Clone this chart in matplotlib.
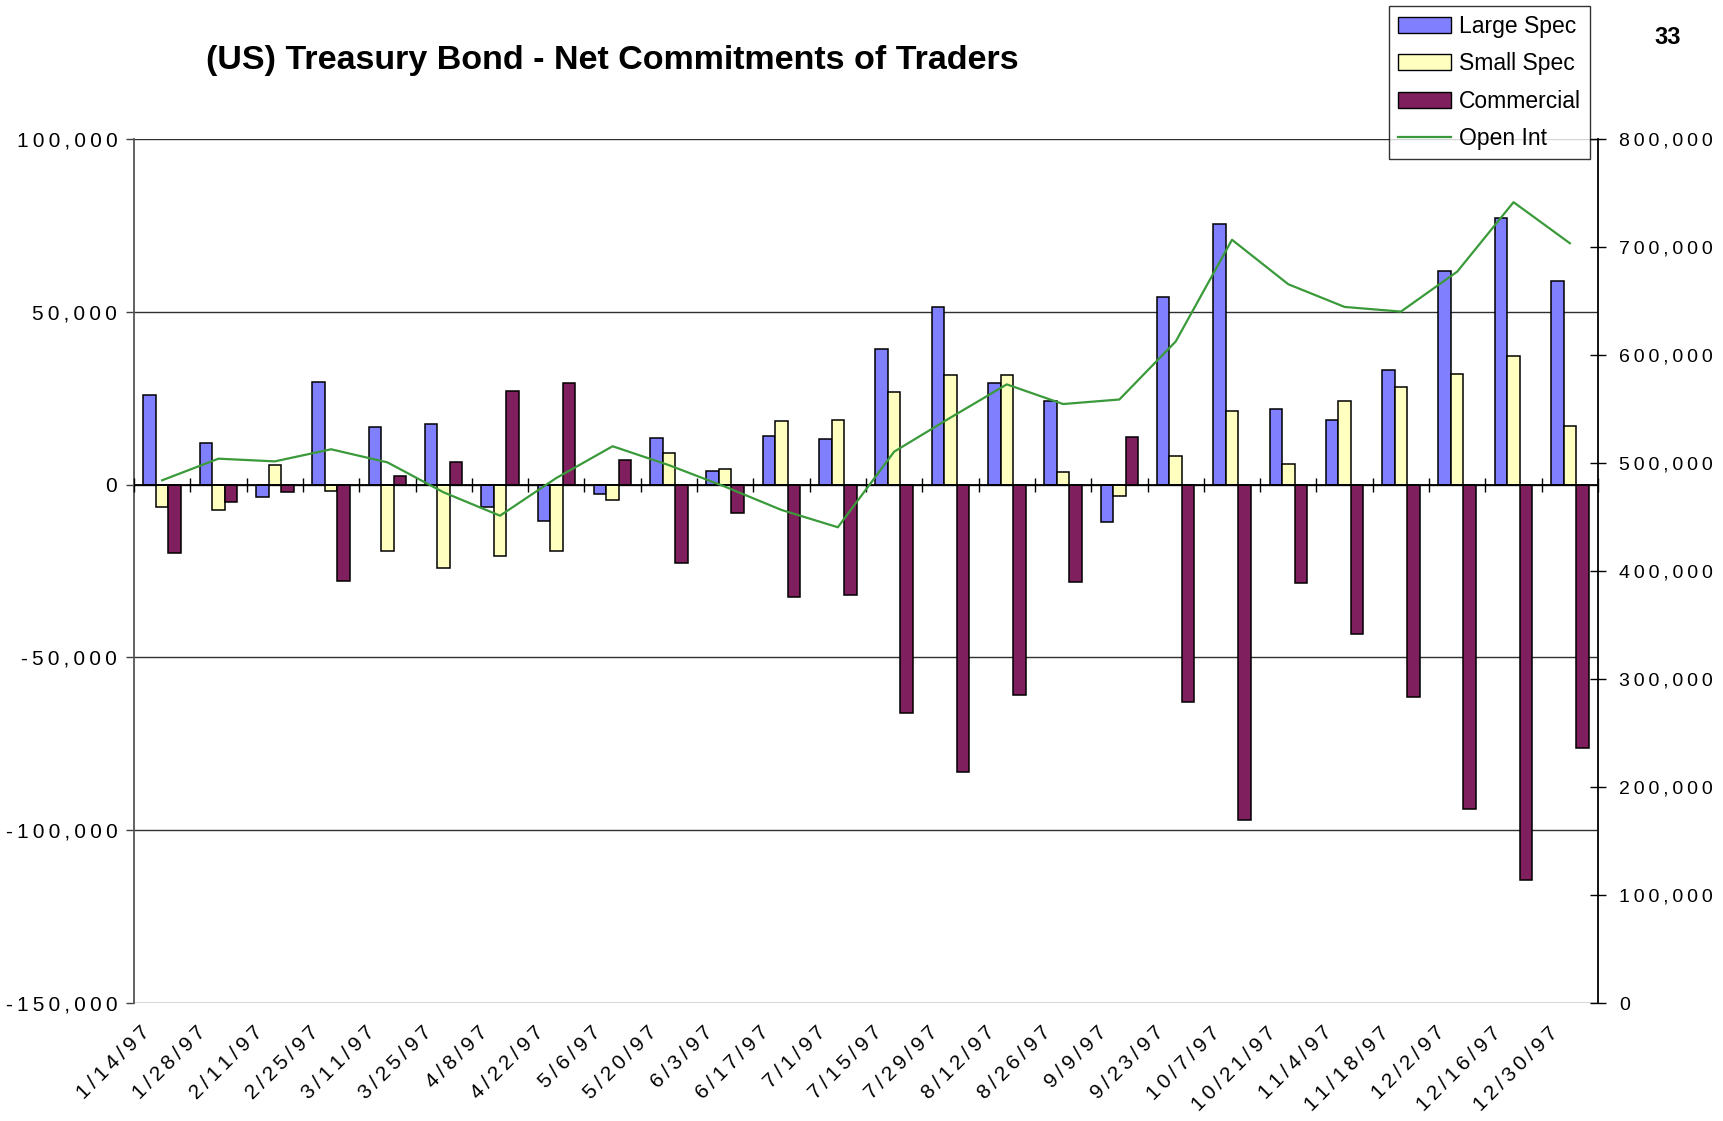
import matplotlib
matplotlib.use('Agg')
import matplotlib.pyplot as plt
import numpy as np
from matplotlib.patches import Patch
from matplotlib.lines import Line2D
from matplotlib.ticker import FuncFormatter, MultipleLocator
from matplotlib.transforms import ScaledTranslation

plt.rcParams['font.family'] = ['Liberation Sans', 'DejaVu Sans']

dates = ["1/14/97", "1/28/97", "2/11/97", "2/25/97", "3/11/97", "3/25/97", "4/8/97",
         "4/22/97", "5/6/97", "5/20/97", "6/3/97", "6/17/97", "7/1/97", "7/15/97",
         "7/29/97", "8/12/97", "8/26/97", "9/9/97", "9/23/97", "10/7/97", "10/21/97",
         "11/4/97", "11/18/97", "12/2/97", "12/16/97", "12/30/97"]

large_spec = [26000, 12100, -3600, 29800, 16800, 17600, -6600, -10500, -2700, 13600,
              3900, 14200, 13200, 39200, 51400, 29300, 24300, -10900, 54300, 75300,
              22000, 18700, 33300, 61700, 77200, 58900]
small_spec = [-6400, -7300, 5600, -1900, -19200, -24100, -20700, -19200, -4600, 9000,
              4600, 18300, 18700, 26700, 31600, 31600, 3700, -3200, 8300, 21400,
              6100, 24200, 28300, 32100, 37100, 17100]
commercial = [-19800, -4900, -2100, -27900, 2400, 6400, 27100, 29500, 7200, -22600,
              -8300, -32500, -32000, -66100, -83100, -60900, -28300, 13700, -62800, -97000,
              -28400, -43100, -61600, -93800, -114400, -76300]
open_int = [484000, 504000, 501500, 512700, 500600, 472800, 451200, 486100, 515500, 498000,
            478000, 456500, 440500, 510500, 542000, 572800, 554600, 558800, 612500, 706700,
            665500, 644500, 640200, 677200, 741500, 703500]

W, H = 1723, 1121
fig = plt.figure(figsize=(W / 100, H / 100), dpi=100)
L, R, T, B = 134, 1598, 139, 1003
ax = fig.add_axes([L / W, 1 - B / H, (R - L) / W, (B - T) / H])

n = len(dates)
x = np.arange(n)
bw = 1 / 4.5
c_large, c_small, c_comm = '#8080FF', '#FFFFC0', '#801F5E'
c_oi = '#3A9A3A'

ax.bar(x - bw, large_spec, bw, color=c_large, edgecolor='black', linewidth=1.1, zorder=3)
ax.bar(x, small_spec, bw, color=c_small, edgecolor='black', linewidth=1.1, zorder=3)
ax.bar(x + bw, commercial, bw, color=c_comm, edgecolor='black', linewidth=1.1, zorder=3)

ax.set_xlim(-0.5, n - 0.5)
ax.set_ylim(-150000, 100000)
ax.yaxis.set_major_locator(MultipleLocator(50000))
spaced = lambda s: '\u2009'.join(s)
ax.yaxis.set_major_formatter(FuncFormatter(lambda v, p: spaced(f'{int(v):,}')))
ax.grid(axis='y', color='#303030', linewidth=1.0, zorder=0)
ax.tick_params(axis='y', direction='out', length=6, width=1, color='#404040',
               labelsize=15, pad=6)
for s in ['top', 'bottom', 'right']:
    ax.spines[s].set_visible(False)
ax.spines['left'].set_color('#555555')
ax.spines['left'].set_linewidth(1.3)

# category axis at zero with cross ticks between categories
ax.axhline(0, color='black', linewidth=1.3, zorder=4)
bounds = np.arange(n + 1) - 0.5
ax.plot(bounds, np.zeros_like(bounds), linestyle='none', marker='|', markersize=10,
        markeredgewidth=1.0, color='black', zorder=4, clip_on=False)

ax.set_xticks(x)
ax.set_xticklabels([spaced(d) for d in dates], rotation=45, ha='right', va='top',
                   rotation_mode='anchor', fontsize=15)
ax.tick_params(axis='x', length=0, pad=14.5)
off = ScaledTranslation(-0.22, 0, fig.dpi_scale_trans)
for lab in ax.get_xticklabels():
    lab.set_transform(lab.get_transform() + off)

ax2 = ax.twinx()
ax2.plot(x, open_int, color=c_oi, linewidth=1.6, zorder=5)
ax2.set_ylim(0, 800000)
ax2.yaxis.set_major_locator(MultipleLocator(100000))
ax2.yaxis.set_major_formatter(FuncFormatter(lambda v, p: spaced(f'{int(v):,}')))
ax2.tick_params(axis='y', direction='inout', length=12, width=1, labelsize=14, pad=9)
for s in ['top', 'bottom', 'left']:
    ax2.spines[s].set_visible(False)
ax2.spines['right'].set_linewidth(1.3)
ax2.set_xlim(-0.5, n - 0.5)

handles = [Patch(facecolor=c_large, edgecolor='black', linewidth=1.0),
           Patch(facecolor=c_small, edgecolor='black', linewidth=1.0),
           Patch(facecolor=c_comm, edgecolor='black', linewidth=1.0),
           Line2D([], [], color=c_oi, linewidth=1.6)]
labels = ['Large Spec', 'Small Spec', 'Commercial', 'Open Int']
leg = fig.legend(handles, labels, loc='upper left', bbox_to_anchor=(1389 / W, 1 - 6 / H),
                 fontsize=16.5, frameon=True, fancybox=False, edgecolor='black',
                 borderaxespad=0, borderpad=0.4, labelspacing=0.62,
                 handlelength=2.3, handleheight=0.7, handletextpad=0.35)
leg.get_frame().set_linewidth(1.0)

fig.text(612 / W, 1 - 61 / H, '(US) Treasury Bond - Net Commitments of Traders',
         ha='center', va='center', fontsize=24.5, fontweight='bold')
fig.text(1668 / W, 1 - 37 / H, '33', ha='center', va='center', fontsize=17,
         fontweight='bold')

fig.savefig('out.png', dpi=100)
